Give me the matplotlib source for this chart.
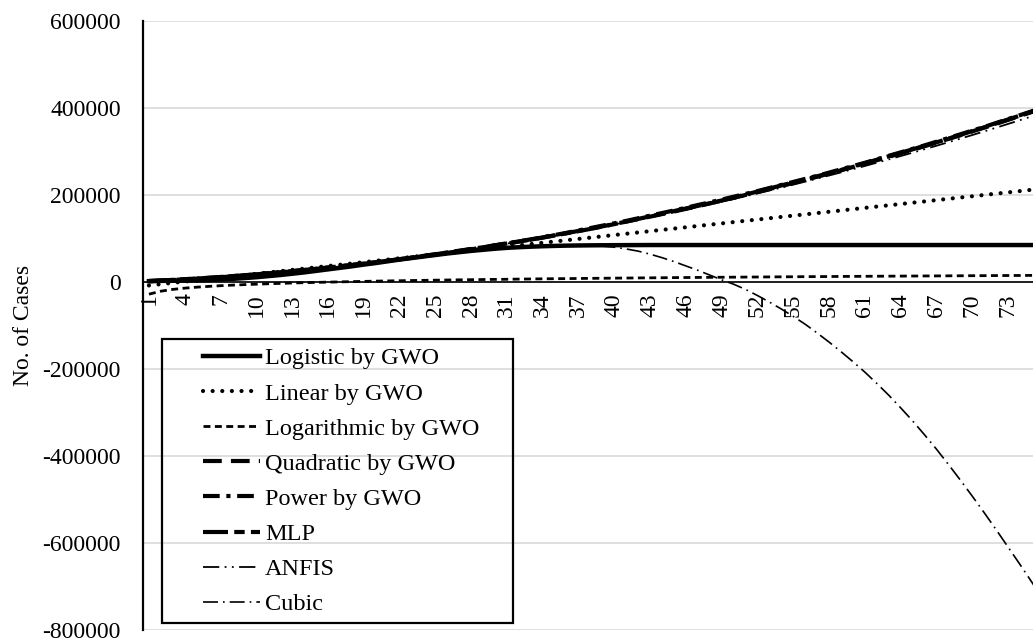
import numpy as np
import matplotlib.pyplot as plt
from matplotlib.patches import Rectangle

plt.rcParams['font.family'] = ['Liberation Serif', 'DejaVu Serif']
plt.rcParams['axes.unicode_minus'] = False

# day index, values in thousands of cases
days = list(range(1, 77))
tick_days = list(range(1, 74, 3))

logistic_k = [
    2.0, 2.5, 3.0, 3.5, 4.0, 4.8, 5.8, 7.2, 9.0, 11.0,
    13.5, 16.0, 19.0, 22.0, 25.5, 29.0, 32.5, 36.0, 40.0, 43.5,
    47.5, 51.5, 55.0, 58.5, 62.0, 65.5, 68.5, 71.5, 74.0, 76.5,
    78.5, 80.0, 81.2, 82.2, 83.0, 83.6, 84.0, 84.3, 84.5, 84.7,
    84.8, 84.9, 85.0, 85.0, 85.0, 85.0, 85.0, 85.0, 85.0, 85.0,
    85.0, 85.0, 85.0, 85.0, 85.0, 85.0, 85.0, 85.0, 85.0, 85.0,
    85.0, 85.0, 85.0, 85.0, 85.0, 85.0, 85.0, 85.0, 85.0, 85.0,
    85.0, 85.0, 85.0, 85.0, 85.0, 85.0,
]
linear_k = [
    -7.9, -4.9, -1.9, 1.0, 4.0, 7.0, 9.9, 12.9, 15.9, 18.9,
    21.8, 24.8, 27.8, 30.7, 33.7, 36.7, 39.7, 42.6, 45.6, 48.6,
    51.5, 54.5, 57.5, 60.5, 63.4, 66.4, 69.4, 72.3, 75.3, 78.3,
    81.3, 84.2, 87.2, 90.2, 93.1, 96.1, 99.1, 102.0, 105.0, 108.0,
    111.0, 113.9, 116.9, 119.9, 122.8, 125.8, 128.8, 131.8, 134.7, 137.7,
    140.7, 143.6, 146.6, 149.6, 152.6, 155.5, 158.5, 161.5, 164.4, 167.4,
    170.4, 173.4, 176.3, 179.3, 182.3, 185.2, 188.2, 191.2, 194.2, 197.1,
    200.1, 203.1, 206.0, 209.0, 212.0, 215.0,
]
logarithmic_k = [
    -28.0, -21.1, -17.0, -14.1, -11.9, -10.1, -8.5, -7.2, -6.0, -5.0,
    -4.0, -3.2, -2.3, -1.6, -0.9, -0.3, 0.3, 0.9, 1.4, 2.0,
    2.5, 2.9, 3.4, 3.8, 4.2, 4.6, 5.0, 5.3, 5.7, 6.0,
    6.3, 6.7, 7.0, 7.3, 7.6, 7.8, 8.1, 8.4, 8.6, 8.9,
    9.1, 9.4, 9.6, 9.8, 10.1, 10.3, 10.5, 10.7, 10.9, 11.1,
    11.3, 11.5, 11.7, 11.9, 12.1, 12.3, 12.4, 12.6, 12.8, 12.9,
    13.1, 13.3, 13.4, 13.6, 13.7, 13.9, 14.0, 14.2, 14.3, 14.5,
    14.6, 14.8, 14.9, 15.0, 15.2, 15.3,
]
quadratic_k = [
    2.0, 3.3, 4.7, 6.3, 7.9, 9.7, 11.5, 13.5, 15.5, 17.7,
    20.0, 22.4, 24.9, 27.5, 30.2, 33.1, 36.0, 39.0, 42.2, 45.5,
    48.8, 52.3, 55.9, 59.6, 63.4, 67.3, 71.3, 75.4, 79.6, 84.0,
    88.4, 93.0, 97.6, 102.4, 107.3, 112.3, 117.4, 122.6, 127.9, 133.3,
    138.8, 144.5, 150.2, 156.1, 162.0, 168.1, 174.3, 180.6, 186.9, 193.4,
    200.1, 206.8, 213.6, 220.5, 227.6, 234.7, 242.0, 249.3, 256.8, 264.4,
    272.1, 279.9, 287.8, 295.8, 303.9, 312.1, 320.5, 328.9, 337.4, 346.1,
    354.9, 363.7, 372.7, 381.8, 391.0, 400.3,
]
power_k = [
    1.5, 3.0, 4.5, 6.0, 7.5, 9.0, 11.0, 13.0, 15.0, 17.0,
    19.5, 22.0, 24.5, 27.0, 30.0, 33.0, 36.0, 39.0, 42.0, 45.5,
    49.0, 52.5, 56.0, 60.0, 64.0, 68.0, 72.0, 76.0, 80.0, 84.5,
    89.0, 93.5, 98.0, 103.0, 108.0, 113.0, 118.5, 124.0, 129.5, 135.0,
    140.5, 146.5, 152.5, 158.5, 164.5, 170.5, 177.0, 183.0, 189.5, 196.0,
    202.5, 209.0, 216.0, 223.0, 230.0, 237.0, 244.0, 251.5, 259.0, 266.5,
    274.0, 282.0, 290.0, 298.0, 306.0, 314.0, 322.5, 331.0, 339.5, 348.0,
    356.5, 365.5, 374.5, 383.5, 392.5, 401.5,
]
mlp_k = [
    2.5, 3.5, 5.0, 6.5, 8.0, 9.5, 11.5, 13.5, 15.5, 17.5,
    20.0, 22.5, 25.0, 27.5, 30.5, 33.0, 36.0, 39.0, 42.0, 45.5,
    49.0, 52.0, 55.5, 59.5, 63.5, 67.0, 71.0, 75.0, 79.5, 84.0,
    88.5, 93.0, 97.5, 102.0, 107.0, 112.0, 117.0, 122.0, 127.5, 133.0,
    139.0, 145.0, 151.0, 157.0, 163.0, 169.0, 175.0, 181.0, 187.5, 194.0,
    201.0, 208.0, 215.0, 222.0, 229.0, 236.0, 243.0, 250.0, 257.5, 265.0,
    273.0, 281.0, 289.0, 297.0, 305.0, 313.0, 321.0, 329.5, 338.0, 347.0,
    355.5, 364.5, 373.5, 382.5, 391.5, 401.0,
]
anfis_k = [
    2.5, 3.5, 4.8, 6.2, 7.7, 9.4, 11.2, 13.1, 15.1, 17.2,
    19.5, 21.9, 24.4, 27.0, 29.8, 32.7, 35.7, 38.8, 42.0, 45.3,
    48.7, 52.2, 55.8, 59.5, 63.3, 67.2, 71.2, 75.3, 79.5, 83.8,
    88.2, 92.7, 97.3, 102.0, 106.8, 111.7, 116.7, 121.8, 127.0, 132.3,
    137.7, 143.2, 148.8, 154.5, 160.3, 166.2, 172.2, 178.3, 184.5, 190.8,
    197.2, 203.7, 210.3, 217.0, 223.8, 230.7, 237.7, 244.8, 252.0, 259.3,
    266.7, 274.2, 281.8, 289.5, 297.3, 305.2, 313.2, 321.3, 329.5, 337.8,
    346.2, 354.7, 363.3, 372.0, 380.8, 389.7,
]
cubic_k = [
    2.0, 2.5, 3.0, 3.5, 4.0, 4.8, 5.8, 7.2, 9.0, 11.0,
    13.5, 16.0, 19.0, 22.0, 25.5, 29.0, 32.5, 36.0, 40.0, 43.5,
    47.5, 51.5, 55.0, 58.5, 62.0, 65.5, 68.5, 71.5, 74.0, 76.5,
    79.0, 80.5, 81.8, 82.6, 83.0, 83.3, 83.5, 83.5, 82.5, 80.0,
    76.0, 71.0, 64.0, 56.0, 47.0, 37.0, 27.0, 16.0, 5.0, -5.0,
    -17.0, -31.0, -46.0, -62.0, -79.0, -97.0, -117.0, -138.0, -160.0, -183.0,
    -207.0, -233.0, -260.0, -289.0, -319.0, -351.0, -384.0, -419.0, -455.0, -492.0,
    -530.0, -569.0, -609.0, -649.0, -690.0, -732.0,
]

series = [
    ('Logistic by GWO', logistic_k, dict(lw=3.2, ls='-')),
    ('Linear by GWO', linear_k, dict(lw=3.0, ls=(0, (0.01, 2.3)), dash_capstyle='round')),
    ('Logarithmic by GWO', logarithmic_k, dict(lw=2.0, ls=(0, (2.5, 1.6)))),
    ('Quadratic by GWO', quadratic_k, dict(lw=3.0, ls=(0, (4.5, 2.2)))),
    ('Power by GWO', power_k, dict(lw=3.0, ls=(0, (4.0, 1.6, 1.0, 1.6)))),
    ('MLP', mlp_k, dict(lw=3.0, ls=(0, (6.0, 1.5, 2.5, 1.5)))),
    ('ANFIS', anfis_k, dict(lw=1.3, ls=(0, (9, 3, 1, 3, 1, 3)))),
    ('Cubic', cubic_k, dict(lw=1.2, ls=(0, (9, 3, 1, 3)))),
]

fig = plt.figure(figsize=(10.33, 6.41), dpi=100)
ax = fig.add_axes([0.1384, 0.0172, 0.8616, 0.95])

for side in ('top', 'right'):
    ax.spines[side].set_visible(False)
ax.spines['left'].set_linewidth(1.6)
# x axis crosses at zero, as in the spreadsheet chart
ax.spines['bottom'].set_position(('data', 0))
ax.spines['bottom'].set_linewidth(1.2)

for name, vals, style in series:
    ax.plot(days, np.array(vals) * 1000, color='black', label=name, **style)

ax.set_xlim(0.5, 75.1)
ax.set_ylim(-800000, 600000)
ax.set_yticks(np.arange(-800000, 600001, 200000))
ax.set_xticks(tick_days)
ax.set_xticklabels([str(d) for d in tick_days])

ax.grid(axis='y', color='#d9d9d9', lw=1.2, zorder=0)
ax.set_axisbelow(True)
ax.tick_params(axis='y', length=0, pad=16, labelsize=17)
ax.tick_params(axis='x', length=0, pad=8, labelsize=17, labelrotation=90)

ax.set_ylabel('No. of Cases', fontsize=17)
ax.yaxis.set_label_coords(-0.1225, 0.5)

ax.add_patch(Rectangle((0.0213, 0.0115), 0.3944, 0.4663, transform=ax.transAxes,
                       fill=False, ec='black', lw=1.6, zorder=6))
ax.legend(loc='upper left', bbox_to_anchor=(0.0674, 0.464), frameon=False,
          borderpad=0, borderaxespad=0, handlelength=2.35, handletextpad=0.2,
          labelspacing=0.54, fontsize=17.5)

fig.savefig('out.png', dpi=100)
